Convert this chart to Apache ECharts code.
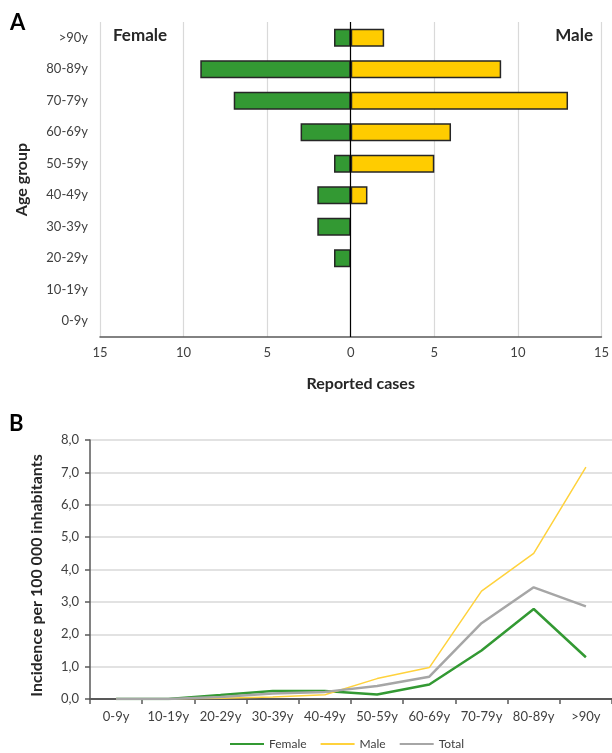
<!DOCTYPE html>
<html>
<head>
<meta charset="utf-8">
<script src="https://cdn.jsdelivr.net/npm/echarts@6/dist/echarts.min.js"></script>
<style>
html,body{margin:0;padding:0;background:#fff;}
#chart{width:612px;height:753px;}
</style>
</head>
<body>
<div id="chart"></div>
<script>
// ---- Data ----
const ageGroups = ['0-9y','10-19y','20-29y','30-39y','40-49y','50-59y','60-69y','70-79y','80-89y','>90y'];
const femaleCases = [0,0,1,2,2,1,3,7,9,1];
const maleCases   = [0,0,0,0,1,5,6,13,9,2];
const casesTicks  = [-15,-10,-5,0,5,10,15];

const femaleIncidence = [0,0,0.12,0.25,0.25,0.14,0.45,1.50,2.78,1.29];
const maleIncidence   = [0,0,0.02,0.06,0.13,0.63,0.97,3.33,4.50,7.16];
const totalIncidence  = [0,0,0.06,0.17,0.22,0.40,0.69,2.34,3.45,2.86];
const incidenceTicks  = [0,1,2,3,4,5,6,7,8];

const FONT = 'Lato';
const GREEN = '#339933', YELLOW = '#FFCC00', GREY = '#A6A6A6';
const TXT = '#404040', AX = '#595959', GRID = '#D9D9D9';

function barData(vals, sign) {
  return vals.map(v => v === 0 ? {value: 0, itemStyle: {borderWidth: 0}} : sign * v);
}

const chart = echarts.init(document.getElementById('chart'));
chart.setOption({
  animation: false,
  textStyle: {fontFamily: FONT},
  grid: [
    {left: 100, right: 8, top: 22, height: 315},
    {left: 90, right: 0, top: 440, height: 259}
  ],
  xAxis: [
    {
      gridIndex: 0, type: 'value',
      min: casesTicks[0], max: casesTicks[casesTicks.length-1], interval: 5,
      axisLine: {show: true, onZero: false, lineStyle: {color: AX, width: 1.5}},
      axisTick: {show: false},
      splitLine: {show: true, lineStyle: {color: GRID, width: 1.2}},
      axisLabel: {color: TXT, fontSize: 13, margin: 9, formatter: v => String(Math.abs(v))},
      name: 'Reported cases', nameLocation: 'middle', nameGap: 39,
      nameTextStyle: {color: '#262626', fontSize: 16, fontWeight: 'bold', fontFamily: FONT, padding: [0, 0, 0, 20]}
    },
    {
      gridIndex: 1, type: 'category', data: ageGroups, boundaryGap: true,
      axisLine: {show: true, lineStyle: {color: AX, width: 2}},
      axisTick: {show: true, length: 5, lineStyle: {color: AX, width: 1.5}},
      axisLabel: {color: TXT, fontSize: 13, margin: 11, interval: 0},
      splitLine: {show: false}
    }
  ],
  yAxis: [
    {
      gridIndex: 0, type: 'category', data: ageGroups,
      axisLine: {show: false}, axisTick: {show: false},
      axisLabel: {color: TXT, fontSize: 13, margin: 12, interval: 0},
      name: 'Age group', nameLocation: 'middle', nameGap: 70, nameRotate: 90,
      nameTextStyle: {color: '#262626', fontSize: 16, fontWeight: 'bold', fontFamily: FONT}
    },
    {
      gridIndex: 1, type: 'value',
      min: incidenceTicks[0], max: incidenceTicks[incidenceTicks.length-1], interval: 1,
      axisLine: {show: true, lineStyle: {color: AX, width: 1.5}},
      axisTick: {show: true, inside: false, length: 5, lineStyle: {color: AX, width: 1.5}},
      splitLine: {show: true, lineStyle: {color: GRID, width: 1.5}},
      axisLabel: {color: TXT, fontSize: 13, margin: 11, formatter: v => v.toFixed(1).replace('.', ',')},
      name: 'Incidence per 100 000 inhabitants', nameLocation: 'middle', nameGap: 45, nameRotate: 90,
      nameTextStyle: {color: '#262626', fontSize: 16, fontWeight: 'bold', fontFamily: FONT, padding: [0, 12, 0, 0]}
    }
  ],
  legend: {
    data: ['Female','Male','Total'],
    top: 736, left: 228, padding: 2,
    icon: 'rect', itemWidth: 34, itemHeight: 2, itemGap: 14,
    textStyle: {color: TXT, fontSize: 12, fontFamily: FONT}
  },
  series: [
    {
      name: 'FemaleCases', type: 'bar', xAxisIndex: 0, yAxisIndex: 0,
      data: barData(femaleCases, -1), barWidth: 18, barGap: '-100%',
      itemStyle: {color: GREEN, borderColor: '#262626', borderWidth: 1.5},
      markLine: {
        silent: true, symbol: 'none', label: {show: false},
        lineStyle: {color: '#000', width: 1.2, type: 'solid'},
        data: [{xAxis: 0}]
      }
    },
    {
      name: 'MaleCases', type: 'bar', xAxisIndex: 0, yAxisIndex: 0,
      data: barData(maleCases, 1), barWidth: 18, barGap: '-100%',
      itemStyle: {color: YELLOW, borderColor: '#262626', borderWidth: 1.5}
    },
    {
      name: 'Female', type: 'line', xAxisIndex: 1, yAxisIndex: 1,
      data: femaleIncidence, symbol: 'none', color: GREEN,
      lineStyle: {color: GREEN, width: 2.5}
    },
    {
      name: 'Male', type: 'line', xAxisIndex: 1, yAxisIndex: 1,
      data: maleIncidence, symbol: 'none', color: '#FFD23C',
      lineStyle: {color: '#FFD23C', width: 1.5}
    },
    {
      name: 'Total', type: 'line', xAxisIndex: 1, yAxisIndex: 1,
      data: totalIncidence, symbol: 'none', color: GREY,
      lineStyle: {color: GREY, width: 2.5}
    }
  ],
  graphic: [
    {type: 'text', left: 10, top: 12, style: {text: 'A', fontSize: 22, fontWeight: 'bold', fill: '#000', fontFamily: FONT}},
    {type: 'text', left: 9, top: 413, style: {text: 'B', fontSize: 22, fontWeight: 'bold', fill: '#000', fontFamily: FONT}},
    {type: 'text', left: 113, top: 27, style: {text: 'Female', fontSize: 17, fontWeight: 'bold', fill: '#262626', fontFamily: FONT}},
    {type: 'text', right: 19, top: 27, style: {text: 'Male', fontSize: 17, fontWeight: 'bold', fill: '#262626', fontFamily: FONT}}
  ]
});
</script>
</body>
</html>
